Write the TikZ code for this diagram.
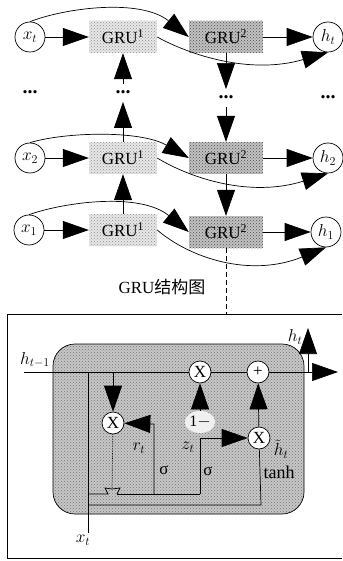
\documentclass[tikz,border=0pt]{standalone}
\usepackage{fontspec}
\setmainfont{Liberation Serif}
\newfontfamily\cjkfont{Noto Sans CJK SC}
\usetikzlibrary{arrows.meta,patterns,shapes.geometric}
\tikzset{
    bigarrow/.style={-{Triangle[length=26pt,width=18pt]}, line width=0.7pt},
    wire/.style={line width=0.7pt},
    ionode/.style={circle, draw, line width=0.7pt, fill=white, minimum size=30pt, inner sep=0pt, font=\fontsize{18}{20}\selectfont},
    grua/.style={preaction={fill=black!9}, pattern=crosshatch dots, pattern color=black!45, minimum width=68pt, minimum height=32pt, inner sep=0pt, font=\fontsize{17}{20}\selectfont},
    grub/.style={preaction={fill=black!24}, pattern=crosshatch dots, pattern color=black!70, minimum width=74pt, minimum height=32pt, inner sep=0pt, font=\fontsize{17}{20}\selectfont},
    gate/.style={circle, draw, line width=0.7pt, fill=white, minimum size=22pt, inner sep=0pt, font=\fontsize{17}{20}\selectfont},
    label/.style={inner sep=0pt, font=\fontsize{17}{18}\selectfont},
    dotsnode/.style={text height=1.5pt, text depth=0pt, inner xsep=0pt, inner ysep=8pt, font=\fontsize{20}{20}\selectfont\bfseries},
}
\begin{document}
\begin{tikzpicture}[x=1pt, y=-1pt]
    \useasboundingbox (0,0) rectangle (342,561);
    \node[ionode] (xt) at (30,37) {$x_t$};
    \node[grua] (gruAt) at (123,37) {GRU\textsuperscript{1}};
    \node[grub] (gruBt) at (226,37) {GRU\textsuperscript{2}};
    \node[ionode] (ht) at (328,37) {$h_t$};
    \node[dotsnode] (dotsx) at (30,93) {...};
    \node[dotsnode] (dotsa) at (123,93) {...};
    \node[dotsnode] (dotsb) at (226,98) {...};
    \node[dotsnode] (dotsh) at (328,98) {...};
    \node[ionode] (x2) at (30,158) {$x_2$};
    \node[grua] (gruA2) at (123,158) {GRU\textsuperscript{1}};
    \node[grub] (gruB2) at (226,158) {GRU\textsuperscript{2}};
    \node[ionode] (h2) at (328,158) {$h_2$};
    \node[ionode] (x1) at (29,230) {$x_1$};
    \node[grua] (gruA1) at (123,230) {GRU\textsuperscript{1}};
    \node[grub] (gruB1) at (226,232) {GRU\textsuperscript{2}};
    \node[ionode] (h1) at (326,232) {$h_1$};
    \node[inner sep=0pt, font=\fontsize{17}{20}\selectfont] (title) at (162,287) {GRU{\cjkfont 结构图}};

    \draw[bigarrow] (xt) -- (gruAt);
    \draw[bigarrow] (gruBt) -- (ht);
    \draw[bigarrow] (x2) -- (gruA2);
    \draw[bigarrow] (gruB2) -- (h2);
    \draw[bigarrow] (x1) -- (gruA1);
    \draw[bigarrow] (gruB1) -- (h1);
    \draw[bigarrow] (dotsa) -- (gruAt);
    \draw[bigarrow] (gruA2) -- (dotsa);
    \draw[bigarrow] (gruA1) -- (gruA2);
    \draw[bigarrow] (gruBt) -- (dotsb);
    \draw[bigarrow] (dotsb) -- (gruB2);
    \draw[bigarrow] (gruB2) -- (gruB1);
    \draw[bigarrow] (xt.north) .. controls (65,8) and (140,-2) .. (gruBt.west);
    \draw[bigarrow] (gruAt.east) .. controls (190,55) and (250,75) .. (ht.south);
    \draw[bigarrow] (x2.north) .. controls (65,132) and (140,130) .. (gruB2.west);
    \draw[bigarrow] (gruA2.east) .. controls (190,178) and (250,198) .. (h2.south);
    \draw[bigarrow] (x1.north) .. controls (65,202) and (140,192) .. (gruB1.west);
    \draw[bigarrow] (gruA1.east) .. controls (190,258) and (250,278) .. (h1.south);

    \coordinate (frame) at (226,314);
    \draw[line width=1pt, dash pattern=on 5pt off 3pt] (gruB1) -- (frame);
    \draw[line width=0.8pt] (342,314) -- (7,314) -- (7,558) -- (342,558);
    \draw[wire, rounded corners=22pt, preaction={fill=black!22}, pattern=crosshatch dots, pattern color=black!55] (53,344) rectangle (304,514);

    \node[gate] (gatet) at (200,372) {X};
    \node[gate] (plus) at (258,372) {+};
    \node[gate] (gater) at (113,423) {X};
    \node[gate] (gateh) at (259,438) {X};
    \node[ellipse, fill=black!6, minimum width=28pt, minimum height=22pt, inner sep=0pt, font=\fontsize{16}{18}\selectfont] (one) at (200,422) {1$-$};
    \node[label] (hprev) at (35,360) {$h_{t-1}$};
    \node[label] (hnow) at (295,337) {$h_t$};
    \node[label] (xin) at (83,540) {$x_t$};
    \node[label] (rt) at (139,448) {$r_t$};
    \node[label] (zt) at (188,447) {$z_t$};
    \node[label] (sigr) at (164,470) {σ};
    \node[label] (sigz) at (208,471) {σ};
    \node[label, font=\fontsize{18}{18}\selectfont] (tanh) at (279,472) {tanh};
    \node[label] (htilde) at (281,449) {$\tilde{h}_t$};

    \coordinate (linein) at (24,372);
    \coordinate (lineout) at (338,372);
    \coordinate (xtop) at (88,372);
    \coordinate (xbot) at (88,533);
    \coordinate (upfoot) at (308,372);
    \coordinate (uptip) at (308,328);
    \coordinate (downfoot) at (113,372);
    \coordinate (rfoot) at (154,494);
    \coordinate (rtop) at (154,424);
    \coordinate (zfoot) at (200,494);
    \coordinate (ztop) at (200,438);
    \coordinate (hcorner) at (261,505);
    \coordinate (hleft) at (88,505);
    \coordinate (gleft) at (88,494);
    \coordinate (gatein) at (108,494);
    \coordinate (gateout) at (117,494);
    \coordinate (gatetop) at (112,489);

    \draw[wire] (linein) -- (gatet);
    \draw[wire] (gatet) -- (plus);
    \draw[bigarrow] (plus) -- (lineout);
    \draw[bigarrow] (upfoot) -- (uptip);
    \draw[wire] (xtop) -- (xbot);
    \draw[bigarrow] (downfoot) -- (gater);
    \draw[bigarrow] (one) -- (gatet);
    \draw[bigarrow] (gateh) -- (plus);
    \draw[wire, densely dotted] (gater) -- (gatetop);
    \draw[bigarrow] (rfoot) -- (rtop) -- (gater);
    \draw[bigarrow] (zfoot) -- (ztop) -- (gateh);
    \draw[wire] (gateout) -- (zfoot);
    \draw[wire] (gateh) -- (hcorner) -- (hleft);
    \draw[wire] (gleft) -- (gatein) -- (105,488) -- (gatetop) -- (120,488) -- (gateout);
\end{tikzpicture}
\end{document}
